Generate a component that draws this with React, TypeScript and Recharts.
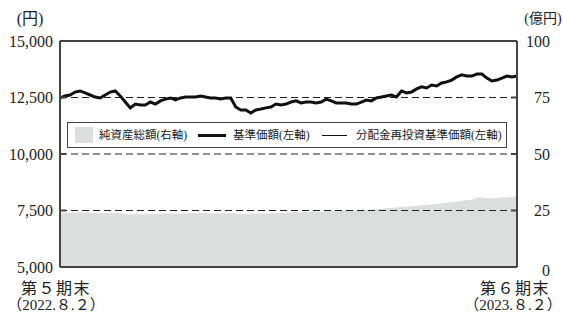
import React from 'react';
import { ComposedChart, Area, Line, XAxis, YAxis, ReferenceLine, Legend } from 'recharts';

// 基準価額 (円), 第5期末 (2022.8.2) → 第6期末 (2023.8.2)
const basePrice: number[] = [
  12480, 12570, 12610, 12740, 12790, 12700, 12610, 12520, 12480, 12610,
  12740, 12790, 12570, 12300, 12040, 12210, 12170, 12170, 12300, 12210,
  12350, 12430, 12480, 12390, 12480, 12520, 12520, 12520, 12570, 12520,
  12480, 12480, 12430, 12480, 12480, 12080, 11950, 11950, 11810, 11950,
  11990, 12040, 12080, 12210, 12170, 12210, 12300, 12350, 12260, 12300,
  12300, 12260, 12300, 12430, 12350, 12260, 12260, 12260, 12210, 12210,
  12300, 12390, 12350, 12480, 12520, 12570, 12610, 12520, 12790, 12700,
  12740, 12880, 12970, 12920, 13050, 13010, 13140, 13190, 13270, 13410,
  13500, 13450, 13450, 13540, 13540, 13360, 13230, 13270, 13360, 13450,
  13410, 13450,
];

// 分配金再投資基準価額 (円): no distributions, overlaps the 基準価額 line
const reinvestPrice: number[] = [...basePrice];

// 純資産総額 (億円)
const netAssets: number[] = [
  24.0, 24.0, 24.1, 24.1, 24.2, 24.1, 24.0, 23.9, 23.8, 23.9,
  24.0, 24.0, 23.8, 23.5, 23.2, 23.3, 23.3, 23.3, 23.4, 23.4,
  23.5, 23.6, 23.7, 23.6, 23.7, 23.8, 23.8, 23.8, 23.9, 23.9,
  23.8, 23.8, 23.8, 23.9, 23.9, 23.7, 23.5, 23.5, 23.4, 23.5,
  23.6, 23.7, 23.8, 23.9, 23.9, 24.0, 24.2, 24.3, 24.2, 24.3,
  24.4, 24.4, 24.5, 24.7, 24.7, 24.7, 24.8, 24.9, 24.9, 24.9,
  25.1, 25.3, 25.3, 25.6, 25.8, 26.0, 26.2, 26.2, 26.7, 26.7,
  26.9, 27.1, 27.3, 27.4, 27.7, 27.8, 28.1, 28.3, 28.6, 28.9,
  29.3, 29.5, 29.8, 30.7, 30.7, 30.5, 30.4, 30.5, 30.7, 30.9,
  31.0, 31.3,
];

const leftTicks: number[] = [5000, 7500, 10000, 12500, 15000];
const rightTicks: number[] = [0, 25, 50, 75, 100];
const gridLevels: number[] = [7500, 10000, 12500];
const leftUnit = '(円)';
const rightUnit = '(億円)';
const startLabel = ['第５期末', '（2022.８.２）'];
const endLabel = ['第６期末', '（2023.８.２）'];
const seriesNames = {
  assets: '純資産総額(右軸)',
  base: '基準価額(左軸)',
  reinvest: '分配金再投資基準価額(左軸)',
};

const data = basePrice.map((v, i) => ({
  idx: i,
  base: v,
  reinvest: reinvestPrice[i],
  assets: netAssets[i],
}));

const FONT = "'Liberation Serif', 'Noto Sans CJK JP', serif";
const INK = '#222';
const BORDER = '#444';

const fmt = (n: number) => n.toLocaleString('en-US');

const LeftTick = (props: any) => {
  const { x, y, payload } = props;
  const v = payload.value;
  const inner = v !== 5000 && v !== 15000;
  return (
    <g>
      <text x={x} y={y} textAnchor="end" dominantBaseline="central" fontFamily={FONT} fontSize={16} fill={INK}>
        {fmt(v)}
      </text>
      {inner && <line x1={x + 7} x2={x + 13} y1={y} y2={y} stroke={BORDER} strokeWidth={2} />}
    </g>
  );
};

const RightTick = (props: any) => {
  const { x, y, payload } = props;
  const v = payload.value;
  const inner = v !== 0 && v !== 100;
  return (
    <g>
      <text x={x + 25} y={v === 0 ? y + 3 : y} textAnchor="end" dominantBaseline="central" fontFamily={FONT} fontSize={16} fill={INK}>
        {v}
      </text>
      {inner && <line x1={x - 14} x2={x - 8} y1={y} y2={y} stroke={BORDER} strokeWidth={2} />}
    </g>
  );
};

const LegendContent = (props: any) => {
  const payload: any[] = props.payload || [];
  const find = (k: string) => payload.find((p) => p.dataKey === k);
  const a = find('assets');
  const b = find('base');
  const r = find('reinvest');
  const txt: React.CSSProperties = {
    position: 'absolute',
    top: 0,
    height: 24,
    lineHeight: '24px',
    fontFamily: FONT,
    fontSize: 11.5,
    color: INK,
    whiteSpace: 'nowrap',
  };
  return (
    <div
      style={{
        position: 'relative',
        width: 438,
        height: 24,
        border: `1.5px solid ${BORDER}`,
        background: '#fff',
      }}
    >
      <div style={{ position: 'absolute', left: 7, top: 4, width: 18, height: 16, background: '#dcdddd' }} />
      <div style={{ ...txt, left: 31 }}>{a ? a.value : seriesNames.assets}</div>
      <div style={{ position: 'absolute', left: 130, top: 10.5, width: 28, height: 3, background: '#111' }} />
      <div style={{ ...txt, left: 165 }}>{b ? b.value : seriesNames.base}</div>
      <div style={{ position: 'absolute', left: 254, top: 11.5, width: 25, height: 1, background: '#111' }} />
      <div style={{ ...txt, left: 288 }}>{r ? r.value : seriesNames.reinvest}</div>
    </div>
  );
};

export default function App() {
  return (
    <div style={{ position: 'absolute', left: 0, top: 0, width: 563, height: 313, background: '#fff' }}>
      <ComposedChart
        width={563}
        height={313}
        data={data}
        margin={{ top: 41, right: 0, bottom: 46, left: 0 }}
      >
        <XAxis dataKey="idx" type="number" domain={[0, basePrice.length - 1]} hide />
        <YAxis
          yAxisId="left"
          orientation="left"
          width={60}
          domain={[5000, 15000]}
          ticks={leftTicks}
          interval={0}
          tickSize={0}
          tickMargin={7}
          axisLine={{ stroke: BORDER, strokeWidth: 2 }}
          tickLine={false}
          tick={<LeftTick />}
          allowDataOverflow
        />
        <YAxis
          yAxisId="right"
          orientation="right"
          width={46}
          domain={[0, 100]}
          ticks={rightTicks}
          interval={0}
          tickSize={0}
          tickMargin={8}
          axisLine={{ stroke: BORDER, strokeWidth: 2 }}
          tickLine={false}
          tick={<RightTick />}
          allowDataOverflow
        />
        <Area
          yAxisId="right"
          dataKey="assets"
          name={seriesNames.assets}
          type="linear"
          stroke="none"
          fill="#dcdddd"
          fillOpacity={1}
          isAnimationActive={false}
        />
        {gridLevels.map((g) => (
          <ReferenceLine key={g} yAxisId="left" y={g} stroke={INK} strokeWidth={1.2} strokeDasharray="7 4" />
        ))}
        <ReferenceLine yAxisId="left" y={15000} stroke={BORDER} strokeWidth={2} />
        <ReferenceLine yAxisId="left" y={5000} stroke={BORDER} strokeWidth={2} />
        <Line
          yAxisId="left"
          dataKey="base"
          name={seriesNames.base}
          type="linear"
          stroke="#111"
          strokeWidth={3}
          dot={false}
          isAnimationActive={false}
        />
        <Line
          yAxisId="left"
          dataKey="reinvest"
          name={seriesNames.reinvest}
          type="linear"
          stroke="#111"
          strokeWidth={1}
          dot={false}
          isAnimationActive={false}
        />
        <Legend
          layout="horizontal"
          verticalAlign="middle"
          align="center"
          content={<LegendContent />}
          wrapperStyle={{ left: 67, top: 122, width: 441, height: 27 }}
        />
        <text x={30} y={18} textAnchor="middle" dominantBaseline="central" fontFamily={FONT} fontSize={16} fill={INK}>
          {leftUnit}
        </text>
        <text x={543} y={18} textAnchor="middle" dominantBaseline="central" fontFamily={FONT} fontSize={14} fill={INK}>
          {rightUnit}
        </text>
        <text x={56} y={288} textAnchor="middle" dominantBaseline="central" fontFamily={FONT} fontSize={16} letterSpacing={1.5} fill={INK}>
          {startLabel[0]}
        </text>
        <text x={56} y={305} textAnchor="middle" dominantBaseline="central" fontFamily={FONT} fontSize={15} fill={INK}>
          {startLabel[1]}
        </text>
        <text x={515} y={288} textAnchor="middle" dominantBaseline="central" fontFamily={FONT} fontSize={16} letterSpacing={1.5} fill={INK}>
          {endLabel[0]}
        </text>
        <text x={513} y={305} textAnchor="middle" dominantBaseline="central" fontFamily={FONT} fontSize={15} fill={INK}>
          {endLabel[1]}
        </text>
      </ComposedChart>
    </div>
  );
}
